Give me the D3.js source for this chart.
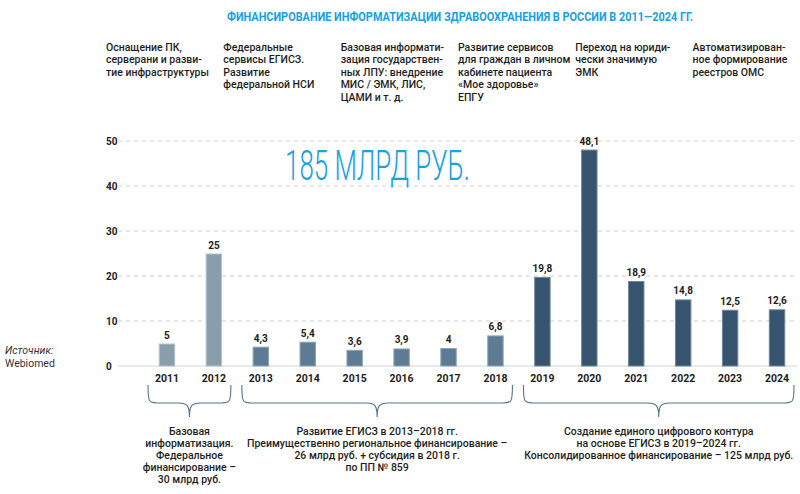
<!DOCTYPE html>
<html><head><meta charset="utf-8">
<script src="https://cdn.jsdelivr.net/npm/d3@7"></script>
<style>
body{margin:0;background:#fff;}
svg{display:block;}
</style></head>
<body>
<svg id="chart" width="800" height="494"></svg>
<script>
const years = [2011,2012,2013,2014,2015,2016,2017,2018,2019,2020,2021,2022,2023,2024];
const values = [5,25,4.3,5.4,3.6,3.9,4,6.8,19.8,48.1,18.9,14.8,12.5,12.6];
const periods = [0,0,1,1,1,1,1,1,2,2,2,2,2,2];
const yTicks = [0,10,20,30,40,50];
const title = "ФИНАНСИРОВАНИЕ ИНФОРМАТИЗАЦИИ ЗДРАВООХРАНЕНИЯ В РОССИИ В 2011—2024 ГГ.";
const total = "185 МЛРД РУБ.";
const topNotes = [
  ["Оснащение ПК,","серверани и разви-","тие инфраструктуры"],
  ["Федеральные","сервисы ЕГИСЗ.","Развитие","федеральной НСИ"],
  ["Базовая информати-","зация государствен-","ных ЛПУ: внедрение","МИС / ЭМК, ЛИС,","ЦАМИ и т. д."],
  ["Развитие сервисов","для граждан в личном","кабинете пациента","«Мое здоровье»","ЕПГУ"],
  ["Переход на юриди-","чески значимую","ЭМК"],
  ["Автоматизирован-","ное формирование","реестров ОМС"]
];
const periodRanges = [[2011,2012],[2013,2018],[2019,2024]];
const periodNotes = [
  ["Базовая","информатизация.","Федеральное","финансирование –","30 млрд руб."],
  ["Развитие ЕГИСЗ в 2013–2018 гг.","Преимущественно региональное финансирование –","26 млрд руб. + субсидия в 2018 г.","по ПП № 859"],
  ["Создание единого цифрового контура","на основе ЕГИСЗ в 2019–2024 гг.","Консолидированное финансирование – 125 млрд руб."]
];
const sourceLabel = "Источник:";
const sourceName = "Webiomed";

const periodFill = ["#899dab","#5e7b94","#37546f"];
const periodStroke = ["#b3c2cc","#8fa5b6","#6f879b"];
const font = "Roboto, 'Noto Sans', sans-serif";

const svg = d3.select("#chart");
const x = d3.scaleBand().domain(years).range([143.5, 800.5]).paddingInner(0.65).paddingOuter(0.325);
const y = d3.scaleLinear().domain([0,50]).range([366,141]);

// title
svg.append("text").attr("x",227).attr("y",21)
  .attr("textLength",466).attr("lengthAdjust","spacingAndGlyphs")
  .style("font-family","Roboto, sans-serif").style("font-weight",700).style("font-size","13px")
  .attr("fill","#1a9fe0").text(title);

// top notes
const colStep = x.step()*2.5;
topNotes.forEach((lines,i)=>{
  const t = svg.append("text").attr("x",106 + i*colStep).attr("y",51)
    .style("font-family",font).style("font-weight",500).style("font-size","10.5px").attr("fill","#1e1e1e");
  lines.forEach((l,j)=>t.append("tspan").attr("x",106+i*colStep).attr("dy", j===0?0:12.4).text(l));
});

// grid
const gridG = svg.append("g");
yTicks.forEach(v=>{
  gridG.append("line").attr("x1",118).attr("x2",797).attr("y1",y(v)).attr("y2",y(v))
    .attr("stroke", v===0?"#cfd3d6":"#cfcfcf").attr("stroke-width", v===0?1.2:1)
    .attr("stroke-dasharray", v===0?null:"4,4");
  gridG.append("text").attr("x",106).attr("y",y(v)+4)
    .style("font-family",font).style("font-weight",700).style("font-size","10px").attr("fill","#222")
    .text(v);
});

// total label
svg.append("text").attr("x",285).attr("y",180)
  .attr("textLength",185).attr("lengthAdjust","spacingAndGlyphs")
  .style("font-family","Roboto, sans-serif").style("font-weight",300).style("font-size","42px")
  .attr("fill","#1ba0e1").text(total);

// bars
const fmt = v => String(v).replace(".",",");
const bars = svg.append("g");
years.forEach((yr,i)=>{
  bars.append("rect").attr("x",x(yr)+0.5).attr("y",y(values[i])+0.5)
    .attr("width",x.bandwidth()-1).attr("height",y(0)-y(values[i])-0.5)
    .attr("fill",periodFill[periods[i]]).attr("stroke",periodStroke[periods[i]]).attr("stroke-width",1);
  bars.append("text").attr("x",x(yr)+x.bandwidth()/2).attr("y",y(values[i])-5)
    .attr("text-anchor","middle")
    .style("font-family",font).style("font-weight",700).style("font-size","10px").attr("fill","#222")
    .text(fmt(values[i]));
  bars.append("text").attr("x",x(yr)+x.bandwidth()/2).attr("y",382)
    .attr("text-anchor","middle")
    .style("font-family",font).style("font-weight",700).style("font-size","10.5px").attr("fill","#222")
    .text(yr);
});

// source
svg.append("text").attr("x",5).attr("y",354).style("font-family",font).style("font-style","italic")
  .style("font-size","10.5px").attr("fill","#333").text(sourceLabel);
svg.append("text").attr("x",5).attr("y",367).style("font-family",font)
  .style("font-size","10.5px").attr("fill","#333").text(sourceName);

// braces
const y0=385, y1=403, y2=417;
periodRanges.forEach((r,i)=>{
  const x1 = x(r[0])+x.bandwidth()/2-19, x2 = x(r[1])+x.bandwidth()/2+17;
  const xm = (x1+x2)/2, rr=14;
  const p = `M${x1},${y0} C${x1},${y1} ${x1},${y1} ${x1+rr},${y1} L${xm-11},${y1} C${xm-2},${y1} ${xm},${y1+3} ${xm},${y2} C${xm},${y1+3} ${xm+2},${y1} ${xm+11},${y1} L${x2-rr},${y1} C${x2},${y1} ${x2},${y1} ${x2},${y0}`;
  svg.append("path").attr("d",p).attr("fill","none").attr("stroke","#56748d").attr("stroke-width",1.1);
  const t = svg.append("text").attr("x",xm).attr("y",435).attr("text-anchor","middle")
    .style("font-family",font).style("font-weight",500).style("font-size","10.5px").attr("fill","#1e1e1e");
  periodNotes[i].forEach((l,j)=>t.append("tspan").attr("x",xm).attr("dy", j===0?0:12).text(l));
});
</script>
</body></html>
